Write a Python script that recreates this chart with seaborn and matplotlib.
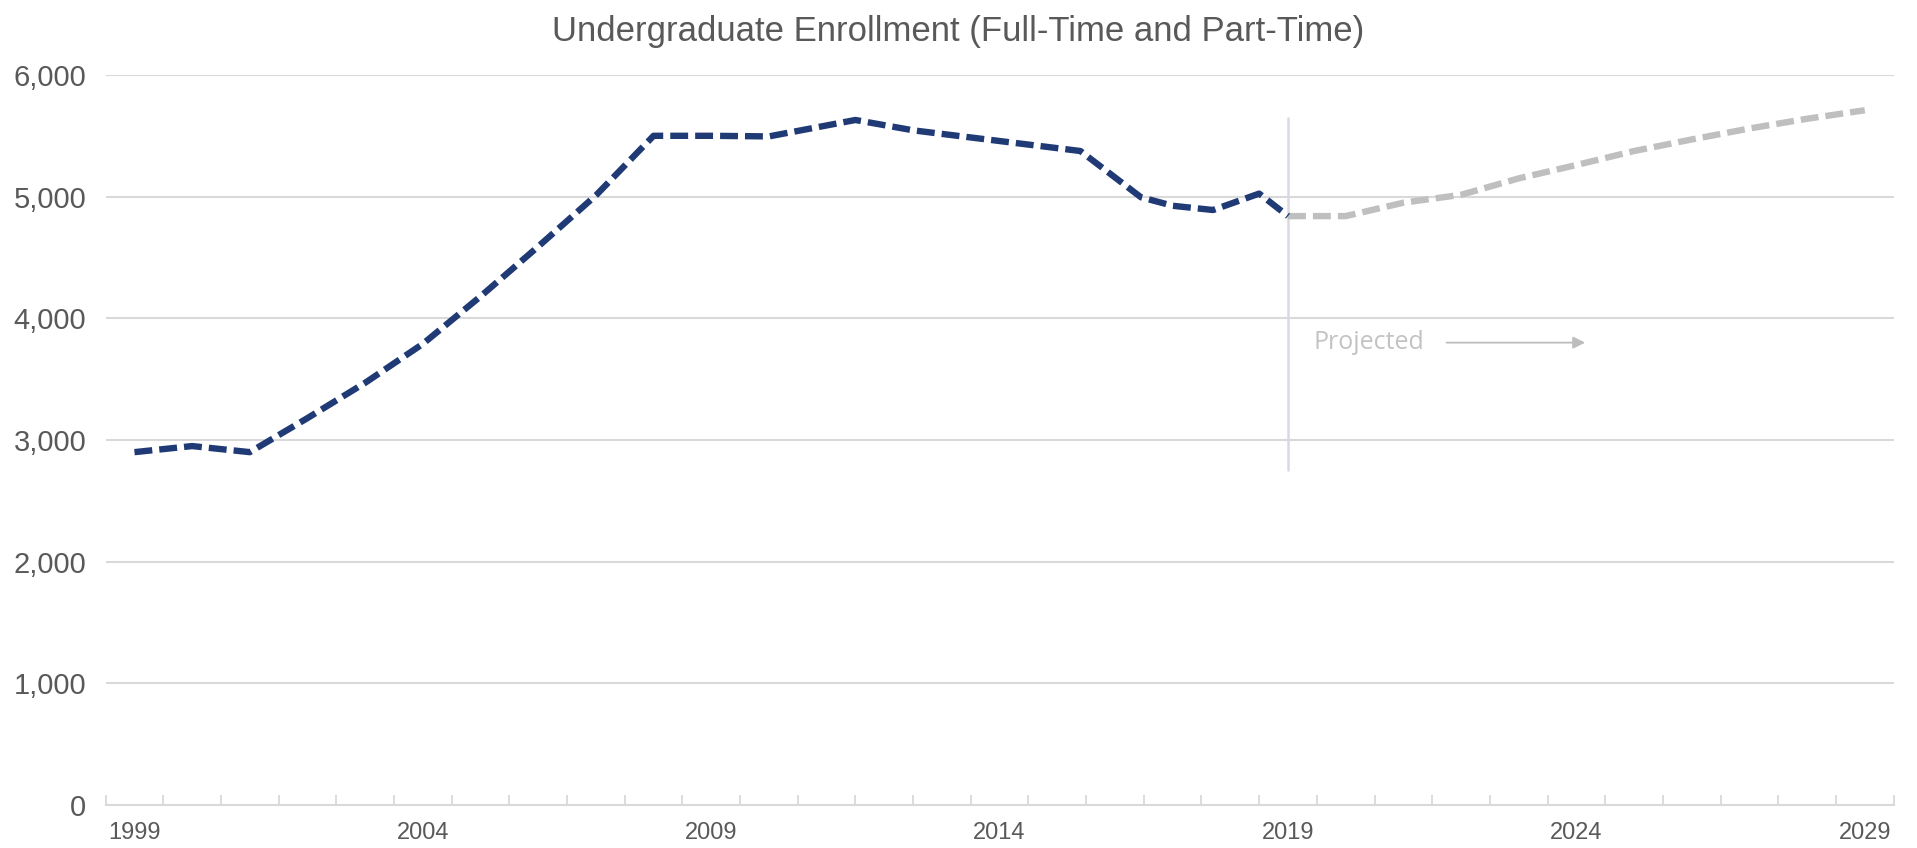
import matplotlib
matplotlib.use("Agg")
import matplotlib.pyplot as plt
from matplotlib.ticker import FixedLocator, FuncFormatter
import seaborn as sns
import pandas as pd

# Historical enrollment (x positions, some fall between years)
hist_years = [1999, 2000, 2001, 2002, 2003, 2004, 2005, 2006, 2007, 2008, 2009, 2010,
              2011.5, 2012.5, 2015.4, 2016.45, 2017, 2017.7, 2018.5, 2019]
hist_values = [2900, 2950, 2900, 3180, 3470, 3790, 4180, 4590, 5010, 5500, 5500, 5495,
               5630, 5545, 5375, 4995, 4925, 4890, 5025, 4840]

# Projected enrollment
proj_years = [2019, 2020, 2021, 2022, 2023, 2024, 2025, 2026, 2027, 2028, 2029]
proj_values = [4840, 4840, 4950, 5015, 5150, 5260, 5375, 5470, 5560, 5640, 5710]

label_years = [1999, 2004, 2009, 2014, 2019, 2024, 2029]
title = "Undergraduate Enrollment (Full-Time and Part-Time)"

hist = pd.DataFrame({"year": hist_years, "enrollment": hist_values})
proj = pd.DataFrame({"year": proj_years, "enrollment": proj_values})

sns.set_theme(style="white")
plt.rcParams["font.family"] = ["Liberation Sans", "DejaVu Sans"]

fig = plt.figure(figsize=(19.17, 8.48), dpi=100)
ax = fig.add_axes([0.0551, 0.0507, 0.9327, 0.8609])

grid_col = "#d9d9d9"
for v in range(1000, 7000, 1000):
    ax.axhline(v, color=grid_col, lw=1.5, zorder=0)

# Projection divider and annotation
ax.plot([2019, 2019], [2750, 5645], color="#dcd8e2", lw=1.8, zorder=1)
ax.text(2019.45, 3800, "Projected", color="#c3c3c3", fontsize=18,
        family=["Open Sans", "DejaVu Sans"], va="center", ha="left")
ax.annotate("", xy=(2024.2, 3800), xytext=(2021.7, 3800),
            arrowprops=dict(arrowstyle="-|>", color="#bdbdbd", lw=1.3,
                            mutation_scale=18))

sns.lineplot(data=proj, x="year", y="enrollment", ax=ax, color="#bfbfbf",
             lw=4.6, dashes=False, zorder=2)
ax.lines[-1].set_dashes([2.8, 1.1])
sns.lineplot(data=hist, x="year", y="enrollment", ax=ax, color="#1f3a75",
             lw=4.6, dashes=False, zorder=3)
ax.lines[-1].set_dashes([2.8, 1.1])

ax.set_xlim(1998.5, 2029.5)
ax.set_ylim(0, 6000)
ax.set_xlabel("")
ax.set_ylabel("")

ax.xaxis.set_major_locator(FixedLocator(label_years))
ax.xaxis.set_minor_locator(FixedLocator([y + 0.5 for y in range(1998, 2030)]))
ax.tick_params(axis="x", which="major", length=0, pad=12, labelsize=17,
               labelcolor="#595959")
ax.tick_params(axis="x", which="minor", length=7, width=1.3, color=grid_col,
               direction="in", bottom=True)
ax.set_yticks(range(0, 7000, 1000))
ax.yaxis.set_major_formatter(FuncFormatter(lambda v, p: f"{int(v):,}"))
ax.tick_params(axis="y", length=0, pad=14, labelsize=21, labelcolor="#595959")

for s in ["top", "right", "left"]:
    ax.spines[s].set_visible(False)
ax.spines["bottom"].set_color(grid_col)
ax.spines["bottom"].set_linewidth(1.5)

fig.suptitle(title, y=0.982, fontsize=25, color="#595959")

fig.savefig("out.png", dpi=100, facecolor="white")
